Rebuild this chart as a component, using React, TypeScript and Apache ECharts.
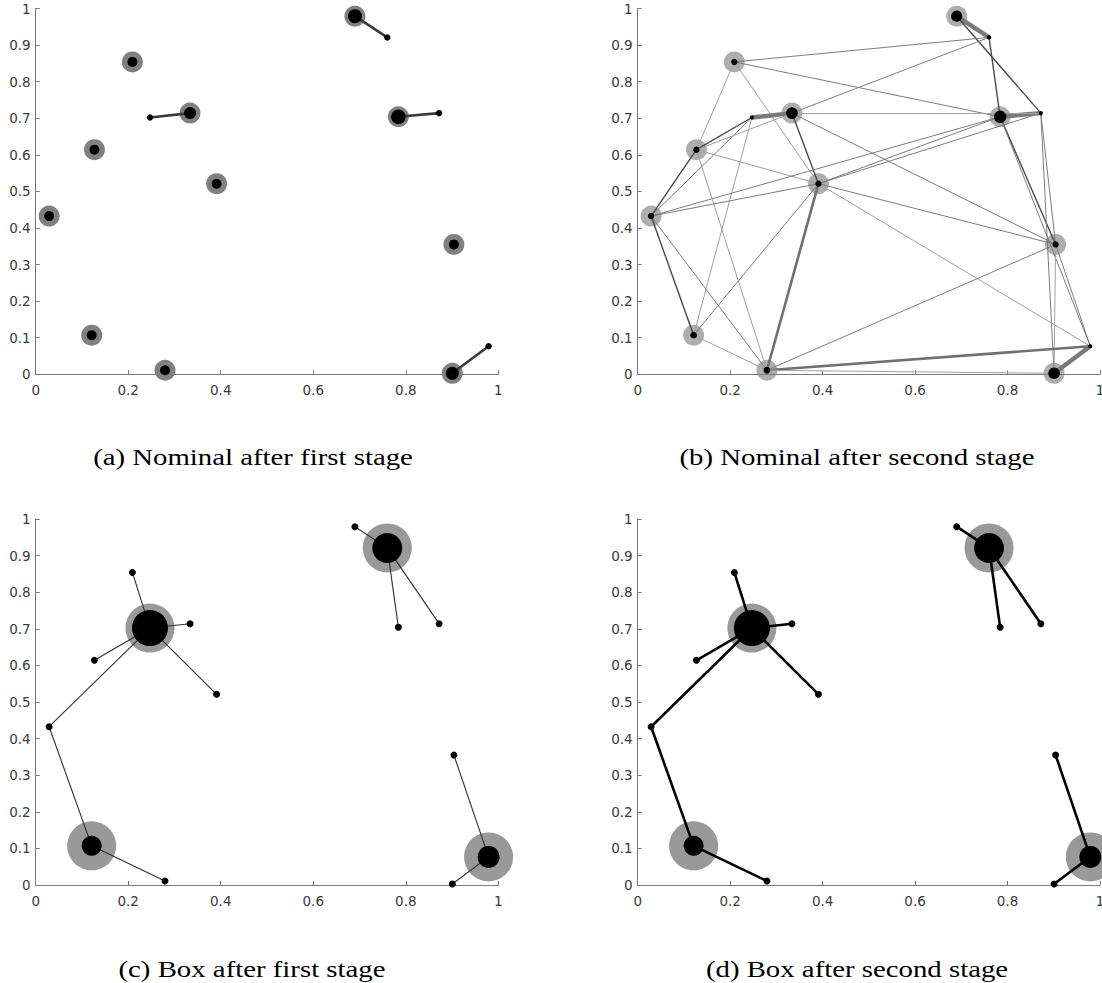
import React, { useEffect, useRef } from "react";
import * as echarts from "echarts";

// 15 site locations (L1..L11 nominal customers, S1..S4 extra sites)
const siteNames = ["L1","L2","L3","L4","L5","L6","L7","L8","L9","L10","L11","S1","S2","S3","S4"];
const siteX = [0.029, 0.121, 0.127, 0.209, 0.2795, 0.3336, 0.391, 0.690, 0.784, 0.904, 0.9006, 0.247, 0.760, 0.872, 0.979];
const siteY = [0.4325, 0.107, 0.614, 0.854, 0.011, 0.714, 0.521, 0.979, 0.704, 0.355, 0.0027, 0.702, 0.921, 0.714, 0.0768];

// panel (a): nominal after first stage
const nominalSites = [0,1,2,3,4,5,6,7,8,9,10];
const dotRadiusA = [5, 5, 5, 5, 5, 6, 5, 7, 7.3, 5, 6.5];
const smallSitesA = [11, 12, 13, 14];
const edgesA = [[5,11],[7,12],[8,13],[10,14]];

// panel (b): nominal after second stage
const dotRadiusB = [3.2, 3.3, 3.2, 3.2, 3.4, 5.8, 3.2, 5.6, 6.2, 3.1, 5.8];
const smallSitesB = [11, 12, 13, 14];
const edgesB = [
  [7,12],[7,13],[12,8],[8,13],[13,9],[8,9],[8,14],[13,10],[9,14],[9,10],[14,10],[14,4],[14,6],
  [9,4],[9,6],[9,5],[3,12],[3,8],[3,2],[11,1],[3,6],[2,0],[2,11],[11,0],[11,5],[5,13],[5,6],
  [5,2],[2,6],[6,4],[6,8],[6,13],[0,8],[1,6],[1,4],[1,0],[0,4],[2,4],[4,10],[5,12],[0,6]
];
// 1 light, 2 normal, 3 dark, 4 medium band, 5 thick band
const edgeClassB = [
  5,3,3,5,2,3,2,2,2,1,5,4,1,
  2,2,2,2,2,1,1,1,3,3,2,5,1,3,
  1,1,4,2,2,2,2,1,3,2,1,1,2,2
];

// panels (c)/(d): box after first/second stage
const facilitySites = [11, 12, 1, 14];
const facilityRadius = [18, 15, 10, 11];
const assignFrom = [11, 11, 11, 11, 11, 12, 12, 12, 1, 1, 14, 14];
const assignTo   = [3, 5, 2, 6, 0, 7, 8, 13, 0, 4, 9, 10];
const customerSitesBox = [0, 2, 3, 4, 5, 6, 7, 8, 9, 10, 13];

const xTickLabels = ["0", "0.2", "0.4", "0.6", "0.8", "1"];
const yTickLabels = ["0", "0.1", "0.2", "0.3", "0.4", "0.5", "0.6", "0.7", "0.8", "0.9", "1"];

const captions = [
  "(a) Nominal after first stage",
  "(b) Nominal after second stage",
  "(c) Box after first stage",
  "(d) Box after second stage",
];

const grids = [
  { left: 35.7, top: 8.5, width: 462.6, height: 365.8, outerBoundsMode: "none", containLabel: false },
  { left: 637.7, top: 8.5, width: 462.3, height: 365.8, outerBoundsMode: "none", containLabel: false },
  { left: 35.7, top: 519, width: 462.6, height: 366, outerBoundsMode: "none", containLabel: false },
  { left: 637.7, top: 519, width: 462.3, height: 366, outerBoundsMode: "none", containLabel: false },
];
const captionPos = [[253, 457], [857, 457], [252, 969], [857, 969]];

const pt = (i: number) => [siteX[i], siteY[i]];

function scatter(gi: number, items: any[], color: string, z: number) {
  return {
    type: "scatter", xAxisIndex: gi, yAxisIndex: gi, silent: true, z,
    symbol: "circle", itemStyle: { color, opacity: 1 },
    data: items, clip: false,
  };
}
function lines(gi: number, items: any[], z: number) {
  return {
    type: "lines", coordinateSystem: "cartesian2d", xAxisIndex: gi, yAxisIndex: gi,
    silent: true, z, polyline: false, data: items, clip: false,
  };
}

export default function App() {
  const ref = useRef<HTMLDivElement>(null);
  useEffect(() => {
    const chart = echarts.init(ref.current!, undefined, { renderer: "svg" });
    const axisColor = "#7a7a7a";
    const xAxes = grids.map((_, i) => ({
      type: "value", gridIndex: i, min: 0, max: 1, interval: 0.2,
      axisLine: { show: true, onZero: false, lineStyle: { color: axisColor, width: 1 } },
      axisTick: { show: true, inside: true, length: 4, lineStyle: { color: axisColor } },
      axisLabel: {
        show: true, margin: 9,
        formatter: (v: number) => xTickLabels[Math.round(v * 5)],
        fontSize: 13.5, color: "#3a3a3a", fontFamily: "DejaVu Sans",
      },
      splitLine: { show: false },
    }));
    const yAxes = grids.map((_, i) => ({
      type: "value", gridIndex: i, min: 0, max: 1, interval: 0.1,
      axisLine: { show: true, onZero: false, lineStyle: { color: axisColor, width: 1 } },
      axisTick: { show: true, inside: true, length: 4, lineStyle: { color: axisColor } },
      axisLabel: {
        show: true, margin: 5,
        formatter: (v: number) => yTickLabels[Math.round(v * 10)],
        fontSize: 13.5, color: "#3a3a3a", fontFamily: "DejaVu Sans",
      },
      splitLine: { show: false },
    }));

    const series: any[] = [];
    // (a)
    series.push(scatter(0, nominalSites.map(i => ({ value: pt(i), symbolSize: 21 })), "#808080", 1));
    series.push(lines(0, edgesA.map(e => ({ coords: [pt(e[0]), pt(e[1])], lineStyle: { color: "#3a3a3a", width: 2.6, opacity: 1 } })), 2));
    series.push(scatter(0, nominalSites.map((i, k) => ({ value: pt(i), symbolSize: dotRadiusA[k] * 2 })), "#000", 3));
    series.push(scatter(0, smallSitesA.map(i => ({ value: pt(i), symbolSize: 6.4 })), "#000", 3));

    // (b)
    const styleB = (c: number) => {
      if (c === 1) return { color: "#a0a0a0", width: 1, opacity: 1 };
      if (c === 2) return { color: "#7c7c7c", width: 1, opacity: 1 };
      if (c === 3) return { color: "#4a4a4a", width: 1.4, opacity: 1 };
      if (c === 4) return { color: "#707070", width: 2.6, opacity: 1 };
      return { color: "#7a7a7a", width: 4.5, opacity: 1 };
    };
    series.push(scatter(1, nominalSites.map(i => ({ value: pt(i), symbolSize: 21 })), "rgba(120,120,120,0.6)", 1));
    series.push(lines(1, edgesB.map((e, k) => ({ coords: [pt(e[0]), pt(e[1])], lineStyle: styleB(edgeClassB[k]) })), 2));
    series.push(scatter(1, nominalSites.map((i, k) => ({ value: pt(i), symbolSize: dotRadiusB[k] * 2 })), "#000", 3));
    series.push(scatter(1, smallSitesB.map(i => ({ value: pt(i), symbolSize: 4.2 })), "#000", 3));

    // (c) and (d)
    [2, 3].forEach(gi => {
      const lw = gi === 2 ? { color: "#2e2e2e", width: 1.1, opacity: 1 } : { color: "#000", width: 2.6, opacity: 1 };
      series.push(scatter(gi, facilitySites.map(i => ({ value: pt(i), symbolSize: 49 })), "#999999", 1));
      series.push(lines(gi, assignFrom.map((f, k) => ({ coords: [pt(f), pt(assignTo[k])], lineStyle: lw })), 2));
      series.push(scatter(gi, facilitySites.map((i, k) => ({ value: pt(i), symbolSize: facilityRadius[k] * 2 })), "#000", 3));
      series.push(scatter(gi, customerSitesBox.map(i => ({ value: pt(i), symbolSize: 7 })), "#000", 3));
    });

    chart.setOption({
      animation: false,
      backgroundColor: "#ffffff",
      grid: grids,
      xAxis: xAxes,
      yAxis: yAxes,
      series,
      graphic: captions.map((t, i) => ({
        type: "text", x: captionPos[i][0], y: captionPos[i][1], scaleX: 1.2,
        style: {
          text: t, font: "24px 'Liberation Serif', serif",
          fill: "#000", textAlign: "center", textVerticalAlign: "middle", verticalAlign: "middle",
        },
      })),
    });
    return () => chart.dispose();
  }, []);
  return (
    <div
      ref={ref}
      style={{ position: "fixed", left: 0, top: 0, width: 1102, height: 983, background: "#fff" }}
    />
  );
}
